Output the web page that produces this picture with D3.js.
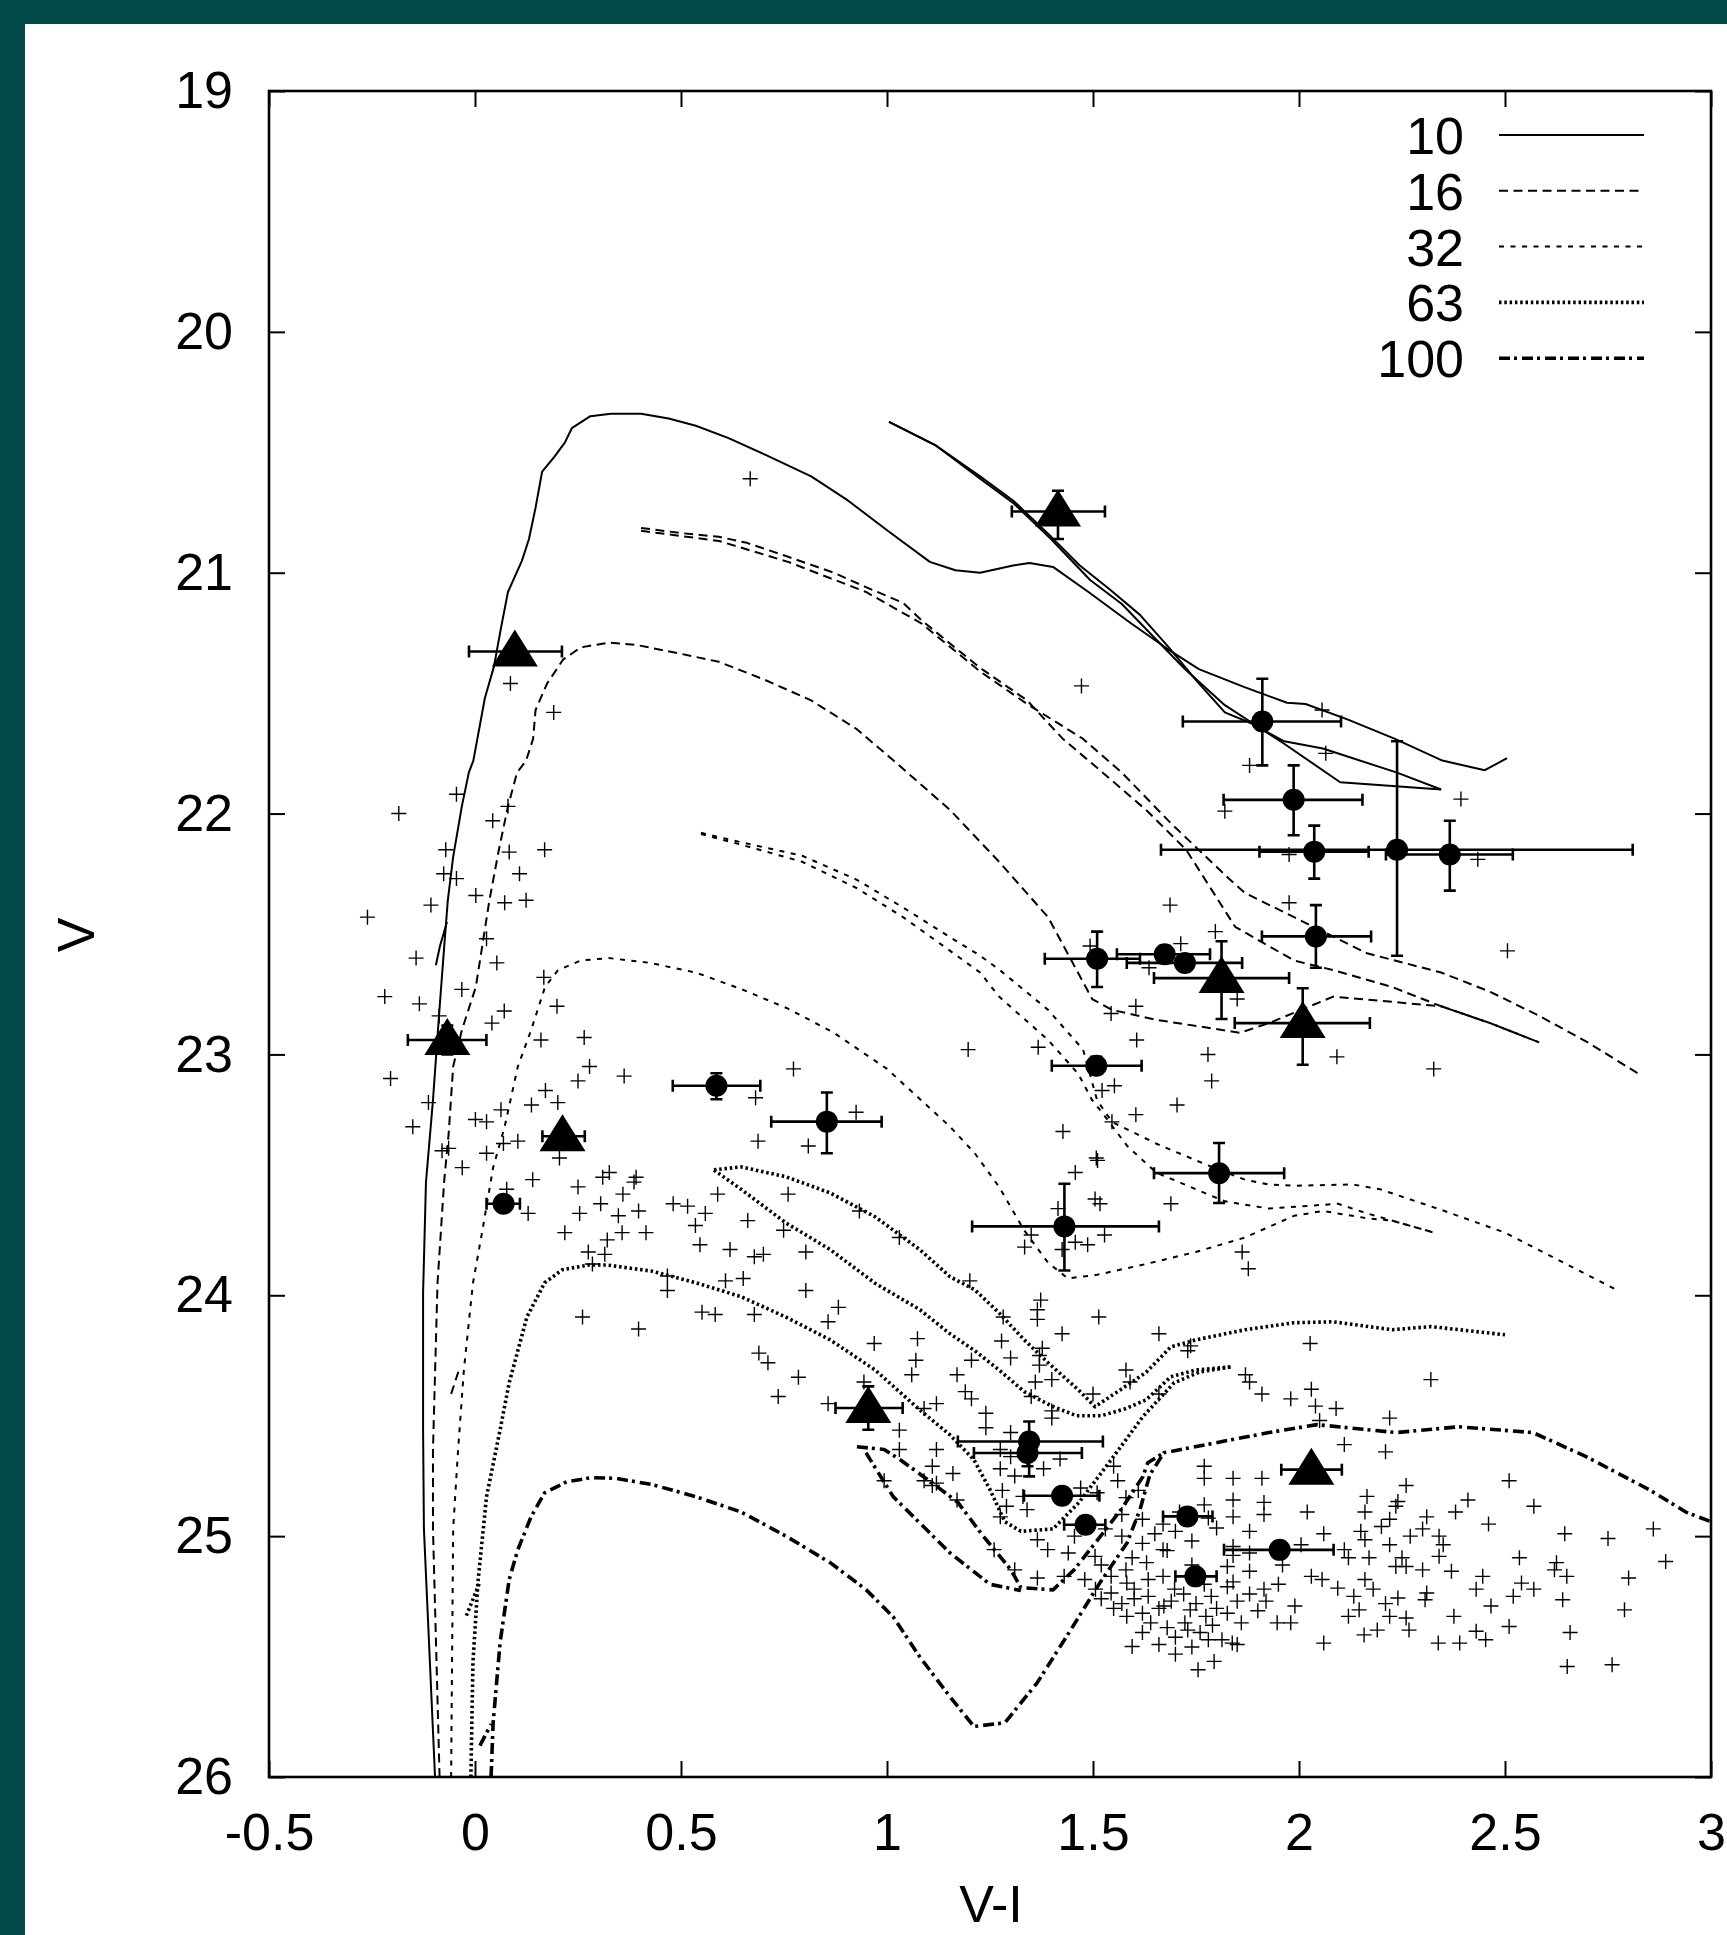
<!DOCTYPE html>
<html>
<head>
<meta charset="utf-8">
<script src="https://cdn.jsdelivr.net/npm/d3@7"></script>
<style>
  body { margin: 0; background: #024a4a; }
  svg { display: block; }
</style>
</head>
<body>
<svg id="chart" width="1727" height="1935"></svg>
<script>
// ---- axes ----
const xTicks = [-0.5, 0, 0.5, 1, 1.5, 2, 2.5, 3];
const yTicks = [19, 20, 21, 22, 23, 24, 25, 26];
const xLabel = 'V-I';
const yLabel = 'V';

// ---- isochrones, [V-I, V] ----
const iso10a = [[-0.097,26.0],[-0.113,25.39],[-0.124,24.97],[-0.126,24.56],[-0.126,23.99],[-0.119,23.53],[-0.102,23.19],[-0.087,22.83],[-0.076,22.58],[-0.066,22.36],[-0.053,22.18],[-0.032,21.97],[-0.015,21.83],[-0.004,21.78],[0.024,21.52],[0.046,21.39],[0.063,21.23],[0.080,21.08],[0.114,20.95],[0.131,20.86],[0.147,20.73],[0.163,20.58],[0.192,20.52],[0.218,20.46],[0.235,20.40],[0.28,20.35],[0.33,20.34],[0.403,20.34],[0.47,20.36],[0.536,20.39],[0.614,20.44],[0.704,20.51],[0.816,20.60],[0.905,20.70],[1.005,20.83],[1.104,20.955],[1.166,20.99],[1.226,21.0],[1.306,20.97],[1.346,20.96],[1.403,20.976],[1.489,21.08],[1.592,21.21],[1.684,21.32],[1.757,21.40],[1.866,21.474],[1.971,21.54],[2.016,21.545],[2.119,21.61],[2.233,21.69],[2.348,21.78],[2.451,21.82],[2.505,21.77]];
const iso10b = [[1.005,20.374],[1.117,20.47],[1.226,20.60],[1.306,20.70],[1.398,20.85],[1.468,20.97],[1.541,21.07],[1.614,21.175],[1.684,21.31],[1.752,21.45],[1.820,21.58],[1.891,21.63],[1.964,21.71],[2.100,21.87],[2.345,21.90]];
const iso10c = [[1.005,20.374],[1.117,20.47],[1.226,20.61],[1.306,20.71],[1.398,20.86],[1.493,21.03],[1.570,21.13],[1.638,21.25],[1.723,21.40],[1.820,21.55],[1.910,21.65],[1.964,21.70],[2.058,21.73],[2.238,21.83],[2.345,21.90]];
const iso10d = [[-0.095,22.63],[-0.085,22.55],[-0.068,22.45]];

const iso16a = [[-0.086,26.0],[-0.102,24.97],[-0.102,24.64],[-0.091,23.95],[-0.075,23.53],[-0.064,23.33],[-0.053,23.05],[-0.032,22.90],[0.002,22.72],[0.035,22.36],[0.058,22.15],[0.080,21.97],[0.102,21.83],[0.124,21.78],[0.141,21.69],[0.147,21.57],[0.175,21.46],[0.214,21.36],[0.257,21.31],[0.325,21.29],[0.392,21.30],[0.481,21.33],[0.592,21.37],[0.704,21.445],[0.816,21.53],[0.927,21.65],[1.016,21.78],[1.153,21.985],[1.272,22.20],[1.391,22.43],[1.498,22.77],[1.546,22.815],[1.653,22.856],[1.857,22.91],[1.927,22.87],[2.083,22.76],[2.345,22.80],[2.464,22.87],[2.583,22.95]];
const iso16b = [[0.403,20.814],[0.498,20.835],[0.592,20.851],[0.660,20.876],[0.760,20.934],[0.871,21.0],[0.949,21.06],[1.039,21.125],[1.083,21.196],[1.150,21.29],[1.226,21.395],[1.340,21.53],[1.427,21.69],[1.510,21.81],[1.629,21.985],[1.726,22.15],[1.845,22.47],[1.988,22.61],[2.083,22.65],[2.226,22.72],[2.345,22.80],[2.464,22.87],[2.583,22.95]];
const iso16c = [[0.403,20.826],[0.592,20.868],[0.760,20.955],[0.949,21.08],[1.083,21.21],[1.226,21.41],[1.340,21.545],[1.476,21.69],[1.570,21.83],[1.689,22.04],[1.833,22.275],[1.869,22.33],[1.988,22.43],[2.165,22.58],[2.345,22.66],[2.464,22.74],[2.583,22.84],[2.701,22.95],[2.833,23.09]];
const iso16d = [[-0.058,24.41],[-0.039,24.31]];

const iso32a = [[-0.058,26.0],[-0.053,24.97],[-0.041,24.64],[-0.027,24.31],[-0.005,23.95],[0.017,23.74],[0.044,23.47],[0.072,23.30],[0.104,23.05],[0.136,22.90],[0.170,22.72],[0.2015,22.65],[0.257,22.61],[0.325,22.60],[0.425,22.62],[0.536,22.66],[0.648,22.73],[0.760,22.81],[0.871,22.91],[1.0,23.06],[1.153,23.30],[1.213,23.41],[1.272,23.55],[1.333,23.73],[1.391,23.865],[1.439,23.93],[1.510,23.915],[1.629,23.87],[1.750,23.82],[1.869,23.76],[1.988,23.67],[2.058,23.65],[2.165,23.68],[2.226,23.69],[2.328,23.74]];
const iso32b = [[0.5485,22.08],[0.648,22.12],[0.794,22.175],[0.927,22.275],[1.039,22.39],[1.150,22.51],[1.226,22.59],[1.274,22.65],[1.391,22.815],[1.476,22.98],[1.510,23.19],[1.546,23.28],[1.653,23.37],[1.750,23.44],[1.806,23.48],[1.869,23.52],[1.927,23.54],[1.988,23.545],[2.131,23.54],[2.197,23.56],[2.345,23.645],[2.50,23.74],[2.643,23.865],[2.774,23.98]];
const iso32c = [[0.5485,22.085],[0.648,22.13],[0.794,22.20],[0.927,22.31],[1.039,22.43],[1.150,22.566],[1.226,22.66],[1.272,22.76],[1.391,22.94],[1.464,23.08],[1.498,23.19],[1.517,23.23],[1.583,23.38],[1.653,23.49],[1.750,23.56],[1.820,23.61],[1.927,23.64],[2.095,23.62],[2.165,23.66],[2.328,23.74]];

const iso63a = [[-0.01,26.0],[-0.005,25.525],[0.007,25.193],[0.028,24.836],[0.061,24.558],[0.083,24.363],[0.126,24.09],[0.169,23.948],[0.212,23.894],[0.277,23.874],[0.320,23.874],[0.430,23.90],[0.536,23.948],[0.646,24.006],[0.754,24.09],[0.862,24.185],[0.971,24.31],[1.079,24.475],[1.153,24.58],[1.211,24.683],[1.25,24.807],[1.286,24.94],[1.325,24.98],[1.403,24.97],[1.466,24.86],[1.544,24.683],[1.621,24.504],[1.697,24.363],[1.76,24.318],[1.837,24.297]];
const iso63b = [[0.580,23.479],[0.646,23.467],[0.755,23.508],[0.862,23.575],[0.971,23.674],[1.080,23.811],[1.153,23.923],[1.213,23.977],[1.272,24.073],[1.333,24.185],[1.391,24.28],[1.464,24.392],[1.505,24.463],[1.629,24.32],[1.689,24.214],[1.750,24.185],[1.869,24.143],[1.988,24.114],[2.083,24.11],[2.226,24.143],[2.320,24.13],[2.50,24.164]];
const iso63c = [[0.580,23.48],[0.646,23.56],[0.755,23.70],[0.862,23.81],[0.971,23.95],[1.080,24.06],[1.153,24.16],[1.213,24.23],[1.272,24.31],[1.333,24.40],[1.40,24.46],[1.46,24.50],[1.52,24.50],[1.58,24.47],[1.629,24.434],[1.689,24.338],[1.750,24.31],[1.837,24.297]];
const iso63d = [[-0.021,25.33],[0.012,25.19]];

const iso100a = [[0.039,26.0],[0.044,25.775],[0.061,25.44],[0.083,25.18],[0.104,25.056],[0.136,24.92],[0.169,24.82],[0.223,24.774],[0.283,24.757],[0.342,24.76],[0.430,24.786],[0.536,24.836],[0.646,24.90],[0.755,25.0],[0.862,25.11],[0.949,25.222],[1.015,25.335],[1.079,25.50],[1.153,25.667],[1.211,25.79],[1.286,25.775],[1.364,25.61],[1.442,25.40],[1.517,25.193],[1.583,25.027],[1.614,24.89],[1.638,24.745],[1.672,24.654],[1.799,24.612],[1.927,24.57],[2.044,24.537],[2.235,24.57],[2.388,24.546],[2.568,24.57],[2.697,24.67],[2.85,24.807],[2.939,24.90],[3.0,24.94]];
const iso100b = [[0.927,24.629],[0.993,24.64],[1.032,24.683],[1.109,24.778],[1.172,24.86],[1.235,25.003],[1.301,25.14],[1.325,25.214],[1.403,25.223],[1.454,25.14],[1.517,25.003],[1.568,24.89],[1.621,24.753],[1.633,24.695],[1.672,24.654]];
const iso100c = [[0.949,24.654],[1.015,24.836],[1.153,25.07],[1.25,25.20],[1.325,25.226]];
const iso100d = [[0.012,25.87],[0.039,25.78]];

// ---- clusters with error bars: [V-I, V, V-I lo, V-I hi, V lo, V hi] ----
const circleStars = [
  [1.911,21.618,1.718,2.102,21.44,21.80],
  [1.987,21.943,1.817,2.154,21.80,22.09],
  [2.037,22.158,1.904,2.169,22.05,22.27],
  [2.238,22.15,1.665,2.81,21.70,22.59],
  [2.366,22.17,2.211,2.519,22.03,22.32],
  [2.041,22.51,1.910,2.175,22.38,22.64],
  [1.510,22.603,1.383,1.614,22.49,22.72],
  [1.674,22.584,1.558,1.784,22.55,22.62],
  [1.723,22.62,1.582,1.862,22.59,22.65],
  [1.508,23.047,1.400,1.618,23.01,23.08],
  [0.586,23.13,0.480,0.6925,23.078,23.186],
  [0.854,23.279,0.719,0.987,23.158,23.41],
  [0.0694,23.62,0.028,0.109,23.59,23.65],
  [1.806,23.493,1.648,1.964,23.368,23.617],
  [1.4306,23.714,1.2066,1.660,23.537,23.897],
  [1.345,24.607,1.172,1.524,24.524,24.752],
  [1.341,24.655,1.211,1.473,24.6,24.71],
  [1.425,24.832,1.3325,1.5155,24.8,24.86],
  [1.482,24.953,1.43,1.53,24.92,24.98],
  [1.729,24.918,1.67,1.79,24.89,24.95],
  [1.953,25.057,1.818,2.084,25.03,25.08],
  [1.7485,25.167,1.70,1.80,25.14,25.19]
];
const triangleStars = [
  [1.415,20.746,1.303,1.529,20.66,20.86],
  [0.0966,21.327,-0.0146,0.211,21.30,21.36],
  [-0.0672,22.94,-0.163,0.0277,22.88,23.0],
  [0.2124,23.34,0.1636,0.2665,23.30,23.38],
  [1.812,22.683,1.648,1.976,22.53,22.853],
  [2.009,22.87,1.844,2.172,22.725,23.043],
  [0.9546,24.468,0.875,1.038,24.378,24.558],
  [2.030,24.724,1.957,2.104,24.69,24.76]
];

// ---- field stars, [V-I, V] ----
const fieldUpper = [[0.668,20.61],[0.086,21.46],[0.191,21.58],[1.472,21.47],[2.056,21.57],
  [-0.045,21.92],[-0.185,22.00],[0.080,21.97],[0.043,22.03],[-0.071,22.15],[0.083,22.16],[0.169,22.15],[-0.076,22.25],[-0.045,22.27],[0.108,22.25],[0.002,22.34],[0.072,22.37],[0.124,22.36],[-0.107,22.38],[-0.261,22.43],[0.028,22.52],[-0.143,22.60],[0.053,22.62],[0.167,22.68],[-0.032,22.73],[-0.219,22.76],[-0.135,22.79],[0.071,22.82],[-0.087,22.84],[0.041,22.87],[0.199,22.80],[0.160,22.94],[0.265,22.93],
  [2.065,21.75],[1.880,21.80],[2.393,21.94],[1.820,21.99],[1.976,22.17],[2.434,22.19],[1.687,22.38],[1.976,22.37],[1.797,22.49],[1.713,22.54],[1.493,22.55],[2.506,22.57],[1.636,22.64],[1.850,22.77],[1.604,22.80],[1.544,22.83],[1.606,22.94],[1.367,22.97],[1.197,22.98],[1.779,23.00],[2.092,23.01],[2.327,23.06],[1.788,23.11],[1.552,23.13],[1.522,23.15]];
const fieldMiddle = [[-0.205,23.10],[-0.113,23.20],[-0.151,23.30],[0.001,23.27],[0.028,23.28],[0.063,23.23],[0.137,23.21],[0.201,23.20],[0.171,23.15],[0.250,23.11],[0.278,23.05],[0.362,23.09],[0.773,23.06],[0.681,23.18],[0.687,23.36],[0.925,23.24],[0.809,23.38],[0.069,23.37],[0.104,23.36],[-0.064,23.39],[-0.080,23.40],[0.028,23.41],[-0.031,23.47],[0.205,23.43],[0.140,23.52],[0.077,23.56],[0.129,23.66],[0.250,23.55],[0.254,23.66],[0.305,23.62],[0.310,23.51],[0.326,23.49],[0.359,23.58],[0.348,23.67],[0.397,23.65],[0.386,23.53],[0.391,23.51],[0.357,23.74],[0.415,23.74],[0.218,23.74],[0.321,23.77],[0.275,23.82],[0.315,23.83],[0.285,23.87],[0.481,23.62],[0.516,23.63],[0.559,23.66],[0.589,23.58],[0.535,23.71],[0.662,23.69],[0.749,23.73],[0.546,23.79],[0.619,23.81],[0.678,23.84],[0.700,23.83],[0.803,23.82],[0.760,23.58],[0.933,23.65],[1.030,23.76],[0.467,23.92],[0.467,23.98],[0.608,23.94],[0.651,23.93],[0.803,23.98],[0.882,24.05],[0.857,24.11],[0.678,24.08],[0.551,24.07],[0.583,24.08],[0.261,24.09],[0.397,24.14],[0.689,24.24],[0.711,24.28],[0.785,24.34],[0.736,24.42],[0.969,24.20],[1.074,24.18],[0.944,24.36],[0.857,24.45],[0.993,24.77],
  [1.704,23.21],[1.604,23.25],[1.546,23.28],[1.427,23.32],[1.511,23.44],[1.508,23.43],[1.457,23.49],[1.505,23.60],[1.517,23.62],[1.689,23.62],[1.415,23.64],[1.350,23.75],[1.334,23.80],[1.425,23.81],[1.457,23.78],[1.487,23.79],[1.528,23.75],[1.862,23.82],[1.877,23.89],[1.201,23.94],[1.373,24.02],[1.365,24.06],[1.365,24.10],[1.282,24.09],[1.514,24.09],[1.425,24.16],[1.660,24.16],[1.737,24.21],[2.027,24.20],[1.278,24.19],[1.377,24.22]];
const fieldLower = [[1.07,24.27],[1.205,24.27],[1.30,24.26],[1.37,24.25],[1.37,24.29],[1.73,24.23],[1.58,24.31],[1.17,24.33],[1.06,24.33],
  [1.87,24.33],[1.88,24.36],[2.32,24.35],[1.59,24.36],[1.50,24.41],[1.66,24.41],[1.19,24.40],[1.40,24.35],[1.36,24.36],
  [1.91,24.41],[2.03,24.39],[1.98,24.43],[2.04,24.46],[2.09,24.47],[1.205,24.43],[1.24,24.49],[1.12,24.45],[1.09,24.47],[1.40,24.48],[1.35,24.42],
  [2.22,24.51],[2.05,24.52],[1.24,24.55],[1.40,24.51],[1.30,24.57],[1.03,24.56],
  [2.11,24.62],[2.21,24.65],[1.12,24.64],[1.03,24.64],[1.275,24.64],[1.33,24.655],[1.42,24.68],[1.30,24.67],
  [1.77,24.71],[1.77,24.76],[1.84,24.76],[1.91,24.76],[2.51,24.77],[2.26,24.79],[1.55,24.71],[1.275,24.72],[1.11,24.71],[1.16,24.74],[1.38,24.72],[1.31,24.75],[1.09,24.77],[1.12,24.78],
  [1.56,24.77],[1.61,24.81],[1.58,24.84],[2.165,24.835],[2.24,24.856],[2.41,24.85],[1.84,24.85],[1.915,24.86],[1.77,24.87],[1.28,24.81],[1.33,24.835],[1.17,24.85],[1.11,24.79],[1.47,24.80],[1.51,24.82],
  [2.57,24.876],[2.38,24.90],[2.02,24.90],[1.915,24.91],[1.84,24.92],[1.71,24.90],[1.78,24.925],[2.235,24.876],[2.22,24.93],[2.16,24.90],[2.31,24.92],[2.46,24.95],[2.645,24.99],[2.75,25.01],[2.86,24.97],[1.29,24.876],[1.34,24.89],[1.275,24.92],[1.57,24.91],[1.62,24.93],[1.67,24.95],
  [2.06,24.99],[2.15,24.98],[2.16,25.015],[2.22,25.036],[2.30,24.97],[2.34,25.00],[2.35,25.036],[2.27,25.00],[2.20,24.96],[1.80,24.966],[1.88,24.98],[1.70,24.98],[1.65,24.99],[1.365,25.015],[1.26,25.056],[1.455,25.00],[1.53,24.97],[1.57,25.00],
  [1.84,25.043],[1.84,25.08],[1.88,25.07],[2.005,25.036],[2.11,25.056],[2.12,25.09],[2.17,25.09],[2.25,25.09],[2.34,25.084],[2.535,25.09],[2.625,25.11],[2.89,25.105],[1.39,25.056],[1.44,25.07],[1.505,25.084],[1.595,25.09],[1.67,25.056],[1.63,25.11],
  [2.26,25.126],[2.37,25.146],[2.30,25.14],[2.235,25.126],[2.62,25.14],[2.65,25.167],[2.80,25.174],[2.446,25.167],[1.826,25.126],[1.88,25.146],[2.056,25.18],[2.03,25.167],[2.16,25.18],[1.544,25.167],[1.634,25.18],[1.67,25.167],[1.31,25.14],[1.365,25.174],[1.43,25.167],[1.48,25.18],
  [2.43,25.22],[2.54,25.195],[2.57,25.22],[2.52,25.25],[2.466,25.29],[2.64,25.264],[2.79,25.306],[2.31,25.236],[2.306,25.264],[2.24,25.257],[2.18,25.22],[2.094,25.216],[2.133,25.25],[2.21,25.28],[1.915,25.22],[1.826,25.21],[1.787,25.25],[1.698,25.22],[1.634,25.25],[1.582,25.195],[1.544,25.236],[1.506,25.22],[1.57,25.28],
  [1.99,25.29],[2.146,25.306],[2.22,25.333],[2.376,25.333],[2.51,25.375],[2.26,25.34],[2.12,25.333],[1.826,25.32],[1.774,25.333],[1.736,25.306],[1.672,25.29],[1.62,25.32],[1.582,25.333],[1.723,25.36],
  [2.43,25.395],[2.658,25.40],[2.453,25.43],[2.338,25.444],[2.39,25.444],[2.267,25.39],[2.158,25.41],[2.19,25.39],[1.947,25.36],[1.813,25.43],[1.73,25.39],[1.595,25.458],
  [2.06,25.444],[1.838,25.444],[1.794,25.52],[1.755,25.555],[2.651,25.541],[2.76,25.534]];
// densest knot below the cluster turn-off
const fieldKnot = [[1.60,25.26],[1.66,25.30],[1.69,25.27],[1.75,25.28],[1.80,25.30],[1.85,25.27],[1.64,25.36],[1.68,25.38],[1.76,25.40],[1.79,25.37],[1.86,25.36],[1.62,25.40],[1.70,25.42],[1.74,25.46],[1.78,25.43],[1.66,25.45],[1.55,25.30],[1.52,25.26],[1.60,25.22],[1.72,25.24],[1.77,25.20],[1.84,25.19],[1.88,25.24],[1.92,25.27],[1.90,25.31],[1.95,25.20],[1.58,25.14],[1.52,25.12],[1.74,25.12],[1.68,25.06],[1.62,25.03],[1.74,25.02],[1.96,25.12],[1.98,25.36],[1.85,25.45],[1.70,25.49]];

// ---- legend: age in Myr and dash style ----
const ages = ['10', '16', '32', '63', '100'];
const ageStyles = [
  { dash: null, width: 2 },
  { dash: '9,5.5', width: 2 },
  { dash: '5,6.5', width: 2 },
  { dash: '2.5,2.8', width: 3.6 },
  { dash: '11,4,3,5', width: 3.6 }
];
const isoGroups = [
  [iso10a, iso10b, iso10c, iso10d],
  [iso16a, iso16b, iso16c, iso16d],
  [iso32a, iso32b, iso32c],
  [iso63a, iso63b, iso63c, iso63d],
  [iso100a, iso100b, iso100c, iso100d]
];

const W = 1727, H = 1935;
const plot = { left: 269, right: 1711, top: 91, bottom: 1777 };
const font = '"Liberation Sans", Arial, Helvetica, sans-serif';

const svg = d3.select('#chart');

// teal frame on top/left, white sheet
svg.append('rect').attr('width', W).attr('height', H).attr('fill', '#024a4a');
svg.append('rect').attr('x', 25).attr('y', 24).attr('width', W - 25).attr('height', H - 24).attr('fill', '#fff');

const x = d3.scaleLinear().domain([-0.5, 3]).range([plot.left, plot.right]);
const y = d3.scaleLinear().domain([19, 26]).range([plot.top, plot.bottom]);

svg.append('clipPath').attr('id', 'clip')
  .append('rect')
  .attr('x', plot.left).attr('y', plot.top)
  .attr('width', plot.right - plot.left).attr('height', plot.bottom - plot.top);

// axes, inward ticks
function styleAxis(g) {
  g.select('.domain').remove();
  g.selectAll('.tick line').attr('stroke', '#000').attr('stroke-width', 2);
  g.selectAll('.tick text').attr('fill', '#000');
  g.attr('font-family', font).attr('font-size', 52);
}
const plain = d => String(d);
svg.append('g').attr('transform', `translate(0,${plot.bottom})`)
  .call(d3.axisBottom(x).tickValues(xTicks).tickSize(-16).tickPadding(36).tickFormat(plain))
  .call(styleAxis);
svg.append('g').attr('transform', `translate(0,${plot.top})`)
  .call(d3.axisTop(x).tickValues(xTicks).tickSize(-16).tickFormat(''))
  .call(styleAxis);
svg.append('g').attr('transform', `translate(${plot.left},0)`)
  .call(d3.axisLeft(y).tickValues(yTicks).tickSize(-16).tickPadding(36).tickFormat(plain))
  .call(styleAxis);
svg.append('g').attr('transform', `translate(${plot.right},0)`)
  .call(d3.axisRight(y).tickValues(yTicks).tickSize(-16).tickFormat(''))
  .call(styleAxis);

// frame
svg.append('rect')
  .attr('x', plot.left).attr('y', plot.top)
  .attr('width', plot.right - plot.left).attr('height', plot.bottom - plot.top)
  .attr('fill', 'none').attr('stroke', '#000').attr('stroke-width', 2.6);

// axis titles
svg.append('text')
  .attr('transform', `translate(94,935) rotate(-90)`)
  .attr('text-anchor', 'middle')
  .attr('font-family', font).attr('font-size', 52)
  .text(yLabel);
svg.append('text')
  .attr('x', 991).attr('y', 1922)
  .attr('text-anchor', 'middle')
  .attr('font-family', font).attr('font-size', 52)
  .text(xLabel);

const inner = svg.append('g').attr('clip-path', 'url(#clip)');

// isochrones
const line = d3.line().x(d => x(d[0])).y(d => y(d[1]));
isoGroups.forEach((group, i) => {
  const st = ageStyles[i];
  group.forEach(pts => {
    inner.append('path')
      .attr('d', line(pts))
      .attr('fill', 'none')
      .attr('stroke', '#000')
      .attr('stroke-width', st.width)
      .attr('stroke-dasharray', st.dash)
      .attr('stroke-linejoin', 'round');
  });
});

// field stars (+)
const field = fieldUpper.concat(fieldMiddle, fieldLower, fieldKnot);
inner.append('g').selectAll('path')
  .data(field)
  .join('path')
  .attr('transform', d => `translate(${x(d[0])},${y(d[1])})`)
  .attr('d', 'M-7.5,0H7.5M0,-7.5V7.5')
  .attr('stroke', '#000')
  .attr('stroke-width', 1.4)
  .attr('fill', 'none');

// error bars
function errorBars(data) {
  const g = inner.append('g').attr('stroke', '#000').attr('stroke-width', 2.6).attr('fill', 'none');
  data.forEach(d => {
    const cx = x(d[0]), cy = y(d[1]);
    const x0 = x(d[2]), x1 = x(d[3]), y0 = y(d[4]), y1 = y(d[5]);
    g.append('path').attr('d',
      `M${x0},${cy}H${x1}M${x0},${cy - 6}V${cy + 6}M${x1},${cy - 6}V${cy + 6}` +
      `M${cx},${y0}V${y1}M${cx - 6},${y0}H${cx + 6}M${cx - 6},${y1}H${cx + 6}`);
  });
}
errorBars(circleStars);
errorBars(triangleStars);

inner.append('g').selectAll('circle')
  .data(circleStars)
  .join('circle')
  .attr('cx', d => x(d[0]))
  .attr('cy', d => y(d[1]))
  .attr('r', 11)
  .attr('fill', '#000');

inner.append('g').selectAll('path')
  .data(triangleStars)
  .join('path')
  .attr('transform', d => `translate(${x(d[0])},${y(d[1])})`)
  .attr('d', 'M0,-22L23,15L-23,15Z')
  .attr('fill', '#000');

// legend
const legend = svg.append('g');
ages.forEach((a, i) => {
  const ly = 135 + i * 55.8;
  legend.append('text')
    .attr('x', 1464).attr('y', ly + 19)
    .attr('text-anchor', 'end')
    .attr('font-family', font).attr('font-size', 52)
    .text(a);
  legend.append('line')
    .attr('x1', 1499).attr('x2', 1644)
    .attr('y1', ly).attr('y2', ly)
    .attr('stroke', '#000')
    .attr('stroke-width', ageStyles[i].width)
    .attr('stroke-dasharray', ageStyles[i].dash);
});
</script>
</body>
</html>
